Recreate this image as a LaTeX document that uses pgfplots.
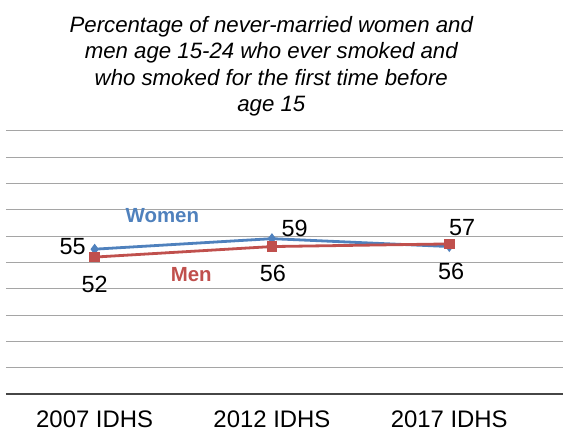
\documentclass[border=0pt]{standalone}
\usepackage{pgfplots}
\pgfplotsset{compat=1.18}
\usepackage{fontspec}
\setmainfont{Liberation Sans}

\definecolor{wblue}{RGB}{79,129,189}
\definecolor{mred}{RGB}{192,80,77}
\definecolor{gridgray}{RGB}{165,165,165}
\definecolor{axisgray}{RGB}{70,70,70}

% x y dx dy (label offsets in bp)
\pgfplotstableread{
x y dx dy
0 55 -22 3
1 59 22.6 10.7
2 56 2 -25
}\women
\pgfplotstableread{
x y dx dy
0 52 0 -27.5
1 56 1 -27
2 57 13 16
}\men

\begin{document}
\begin{tikzpicture}
\begin{axis}[
    name=ax,
    scale only axis,
    width=557bp, height=263.3bp,
    xmin=-0.5, xmax=2.6416,
    ymin=0, ymax=100,
    axis lines*=left,
    x axis line style={axisgray, line width=1.3bp},
    y axis line style={draw=none},
    xtick={0,1,2},
    xticklabels={2007 IDHS,2012 IDHS,2017 IDHS},
    xticklabel style={anchor=base, yshift=-33bp, inner sep=0pt, text depth=0pt},
    tick label style={font=\fontsize{24}{28}\selectfont},
    major tick length=0pt,
    ytick={10,20,...,100},
    yticklabels={},
    ymajorgrids,
    grid style={gridgray, line width=1bp},
    clip=false,
    /pgf/number format/assume math mode=true,
    visualization depends on={\thisrow{dx} \as \dx},
    visualization depends on={\thisrow{dy} \as \dy},
    nodes near coords,
    nodes near coords style={anchor=center, xshift=\dx bp, yshift=\dy bp,
        text=black, font=\fontsize{23.5}{28}\selectfont, inner sep=0pt},
]
\addplot[wblue, line width=2.8bp, mark=diamond*, mark size=3.2bp,
    mark options={solid, fill=wblue}] table[x=x, y=y] {\women};
\addplot[mred, line width=2.8bp, mark=square*, mark size=4bp,
    mark options={solid, fill=mred}] table[x=x, y=y] {\men};
\node[wblue, font=\bfseries\fontsize{20.5}{24}\selectfont] at (axis cs:0.382,67.8) {Women};
\node[mred, font=\bfseries\fontsize{20.5}{24}\selectfont] at (axis cs:0.545,45.4) {Men};
\end{axis}
\node[anchor=north, align=center, inner sep=0pt,
    font=\itshape\fontsize{22.3}{26.7}\selectfont]
    at ([xshift=265.3bp, yshift=378.2bp]ax.south west)
    {Percentage of never-married women and\\
     men age 15-24 who ever smoked and\\
     who smoked for the first time before\\
     age 15};
\pgfresetboundingbox
\path[use as bounding box] ([xshift=-6bp, yshift=-38bp]ax.south west)
    rectangle ([xshift=557bp, yshift=394bp]ax.south west);
\end{tikzpicture}
\end{document}
